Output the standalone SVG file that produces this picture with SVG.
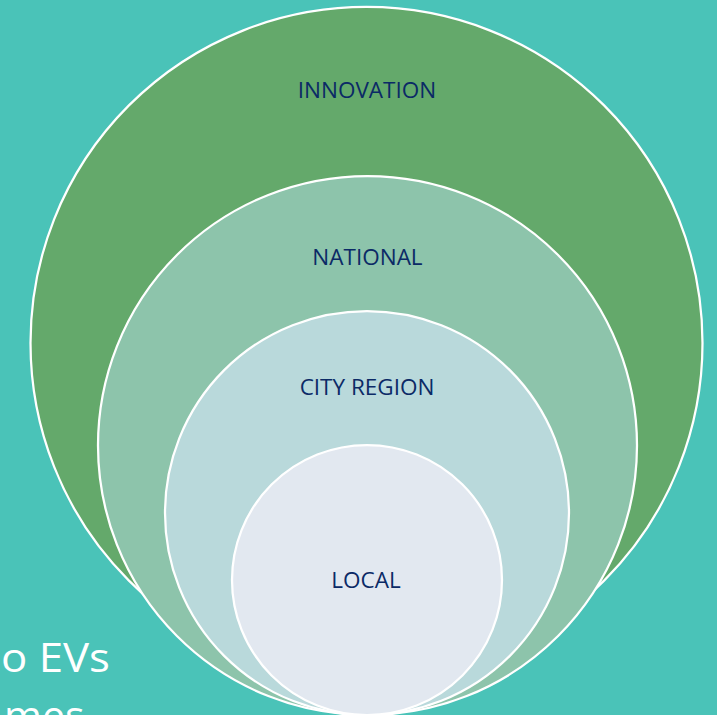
<svg xmlns="http://www.w3.org/2000/svg" width="717" height="715" viewBox="0 0 717 715">
  <style>
    .ring { stroke: #FFFFFF; stroke-width: 2.25; }
    .lbl { font-family: "Open Sans", "Liberation Sans", sans-serif; font-size: 22.5px; fill: #0B2A66; text-anchor: middle; }
    .bg-text { font-family: "Open Sans", "Liberation Sans", sans-serif; font-size: 41px; fill: #FFFFFF; }
  </style>
  <rect x="0" y="0" width="717" height="715" fill="#4AC3B8"/>
  <g id="background-text">
    <text class="bg-text" x="1" y="672" textLength="109" lengthAdjust="spacingAndGlyphs">o EVs</text>
    <text class="bg-text" x="4" y="730">mes</text>
  </g>
  <g id="innovation">
    <circle class="ring" cx="366.5" cy="343" r="336" fill="#64A96B"/>
    <text class="lbl" x="367" y="98">INNOVATION</text>
  </g>
  <g id="national">
    <circle class="ring" cx="367.5" cy="445.5" r="269.5" fill="#8DC4AB"/>
    <text class="lbl" x="367.5" y="265">NATIONAL</text>
  </g>
  <g id="city-region">
    <circle class="ring" cx="367" cy="513" r="202" fill="#B9D9DB"/>
    <text class="lbl" x="367" y="395">CITY REGION</text>
  </g>
  <g id="local">
    <circle class="ring" cx="367" cy="580" r="135" fill="#E2E8F0"/>
    <text class="lbl" x="366" y="588">LOCAL</text>
  </g>
  <g id="connectors"/>
</svg>
